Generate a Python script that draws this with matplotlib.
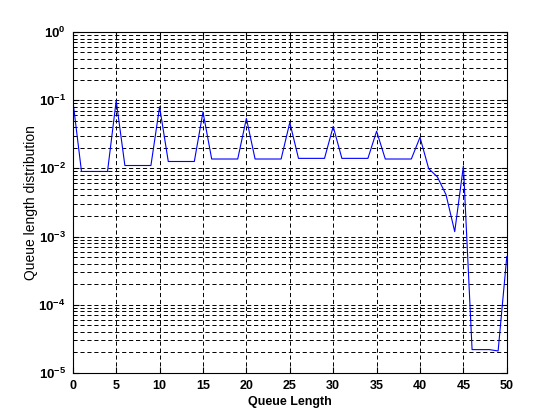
import numpy as np
import matplotlib
matplotlib.use("Agg")
import matplotlib.pyplot as plt
from matplotlib.ticker import LogLocator, FixedLocator, FuncFormatter

# queue length vs. probability
queue_len = list(range(0, 51))
dist = [0.10, 0.009, 0.009, 0.009, 0.009,
        0.098, 0.011, 0.011, 0.011, 0.011,
        0.080, 0.0126, 0.0126, 0.0126, 0.0126,
        0.067, 0.0137, 0.0137, 0.0137, 0.0137,
        0.054, 0.0137, 0.0137, 0.0137, 0.0137,
        0.047, 0.014, 0.014, 0.014, 0.014,
        0.041, 0.014, 0.014, 0.014, 0.014,
        0.035, 0.0137, 0.0137, 0.0137, 0.0137,
        0.0285, 0.0099, 0.0075, 0.0041, 0.00118,
        0.0108, 2.2e-5, 2.2e-5, 2.2e-5, 2.1e-5,
        5.1e-4]

plt.rcParams['font.family'] = ['Liberation Sans', 'DejaVu Sans']
plt.rcParams['mathtext.fontset'] = 'custom'
plt.rcParams['mathtext.rm'] = 'Liberation Sans'
plt.rcParams['mathtext.bf'] = 'Liberation Sans:bold'
plt.rcParams['lines.scale_dashes'] = False

fig = plt.figure(figsize=(5.6, 4.2), dpi=100)
ax = fig.add_axes([0.130, 0.112, 0.775, 0.812])

ax.semilogy(queue_len, dist, color='blue', lw=0.8)

ax.set_xlim(0, 50)
ax.set_ylim(1e-5, 1)
ax.xaxis.set_major_locator(FixedLocator(np.arange(0, 51, 5)))
ax.yaxis.set_major_locator(LogLocator(base=10, numticks=10))
ax.yaxis.set_minor_locator(LogLocator(base=10, subs=np.arange(2, 10), numticks=10))
ax.yaxis.set_major_formatter(FuncFormatter(
    lambda v, pos: r'$\mathbf{10^{%d}}$' % int(round(np.log10(v)))))

grid_style = dict(color='black', lw=0.7, linestyle=(0, (3, 2)))
ax.grid(True, which='major', axis='both', **grid_style)
ax.grid(True, which='minor', axis='y', **grid_style)

ax.tick_params(which='both', direction='in', top=True, right=True)
ax.tick_params(axis='x', labelsize=9, pad=5)
ax.tick_params(axis='y', labelsize=9.5, pad=5)
ax.tick_params(which='major', length=4)
ax.tick_params(which='minor', length=2)
for lab in ax.get_xticklabels():
    lab.set_fontweight('bold')

for s in ax.spines.values():
    s.set_linewidth(0.8)

ax.set_xlabel('Queue Length', fontsize=9, fontweight='bold', labelpad=3)
ax.set_ylabel('Queue length distribution', fontsize=10)
ax.yaxis.set_label_coords(-0.08, 0.5)

fig.savefig('out.png', dpi=100)
